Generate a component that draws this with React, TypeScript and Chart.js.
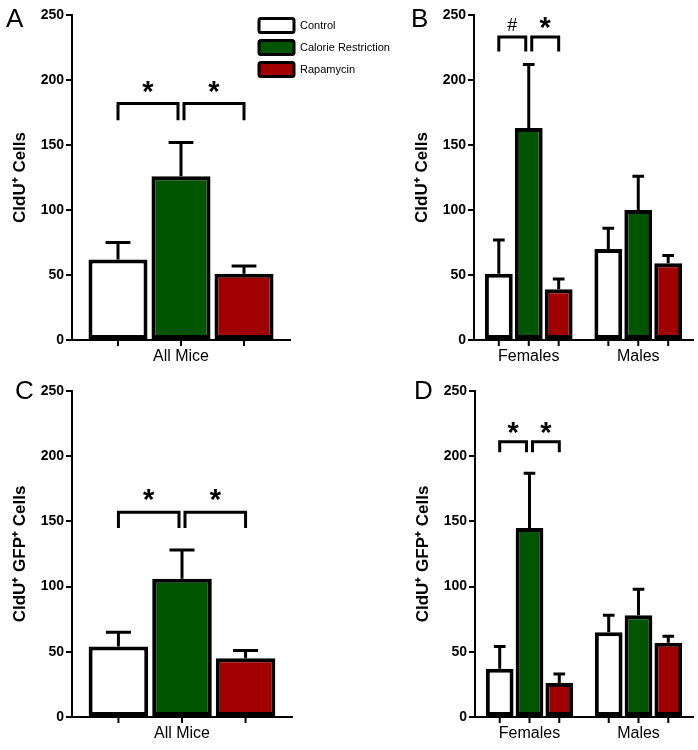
import React, { useEffect, useRef } from "react";
import { Chart, registerables } from "chart.js";

Chart.register(...registerables);

const FONT = '"Liberation Sans", Arial, Helvetica, sans-serif';

// ---------- data ----------
const seriesNames = ["Control", "Calorie Restriction", "Rapamycin"];
const seriesColors = ["#ffffff", "#005500", "#a00000"];
const allMiceCategories = ["All Mice"];
const sexCategories = ["Females", "Males"];
const yTicks = [0, 50, 100, 150, 200, 250];

// Panel A: CldU+ cells, all mice (mean, SEM)
const aControl = [62];
const aControlSem = [13];
const aCalorie = [126];
const aCalorieSem = [26];
const aRapamycin = [51];
const aRapamycinSem = [6];

// Panel B: CldU+ cells by sex
const bControl = [51, 70];
const bControlSem = [26, 16];
const bCalorie = [163, 100];
const bCalorieSem = [49, 26];
const bRapamycin = [39, 59];
const bRapamycinSem = [8, 6];

// Panel C: CldU+ GFP+ cells, all mice
const cControl = [54];
const cControlSem = [11];
const cCalorie = [106];
const cCalorieSem = [22];
const cRapamycin = [45];
const cRapamycinSem = [6];

// Panel D: CldU+ GFP+ cells by sex
const dControl = [37, 65];
const dControlSem = [17, 13];
const dCalorie = [145, 78];
const dCalorieSem = [42, 20];
const dRapamycin = [26, 57];
const dRapamycinSem = [7, 5];

// significance brackets: category, bar from/to, bracket top, leg end, mark, mark centre
const aBrackets = [
  { cat: 0, from: 0, to: 1, top: 182, leg: 169, mark: "*", markAt: 195 },
  { cat: 0, from: 1, to: 2, top: 182, leg: 169, mark: "*", markAt: 195 },
];
const bBrackets = [
  { cat: 0, from: 0, to: 1, top: 233, leg: 222, mark: "#", markAt: 243 },
  { cat: 0, from: 1, to: 2, top: 233, leg: 222, mark: "*", markAt: 244 },
];
const cBrackets = [
  { cat: 0, from: 0, to: 1, top: 157, leg: 145, mark: "*", markAt: 170 },
  { cat: 0, from: 1, to: 2, top: 157, leg: 145, mark: "*", markAt: 170 },
];
const dBrackets = [
  { cat: 0, from: 0, to: 1, top: 211, leg: 203, mark: "*", markAt: 222 },
  { cat: 0, from: 1, to: 2, top: 211, leg: 203, mark: "*", markAt: 222 },
];

type Bracket = { cat: number; from: number; to: number; top: number; leg: number; mark: string; markAt: number };

type PanelCfg = {
  letter: string;
  letterPos: [number, number];
  left: number;
  top: number;
  width: number;
  height: number;
  padding: { left: number; top: number; right: number; bottom: number };
  xHeight: number;
  yTitle: string;
  categories: string[];
  values: number[][];
  sems: number[][];
  brackets: Bracket[];
  catPct: number;
  barPct: number;
  legend: boolean;
};

const panels: PanelCfg[] = [
  {
    letter: "A", letterPos: [6, 7], left: 0, top: 0, width: 420, height: 375,
    padding: { left: 0, top: 15, right: 130, bottom: 0 }, xHeight: 35,
    yTitle: "CldU\u207A Cells", categories: allMiceCategories,
    values: [aControl, aCalorie, aRapamycin], sems: [aControlSem, aCalorieSem, aRapamycinSem],
    brackets: aBrackets, catPct: 0.867, barPct: 0.937, legend: true,
  },
  {
    letter: "B", letterPos: [61, 7], left: 350, top: 0, width: 348, height: 375,
    padding: { left: 52, top: 15, right: 5, bottom: 0 }, xHeight: 35,
    yTitle: "CldU\u207A Cells", categories: sexCategories,
    values: [bControl, bCalorie, bRapamycin], sems: [bControlSem, bCalorieSem, bRapamycinSem],
    brackets: bBrackets, catPct: 0.82, barPct: 0.93, legend: false,
  },
  {
    letter: "C", letterPos: [15, 4], left: 0, top: 375, width: 350, height: 375,
    padding: { left: 0, top: 16, right: 58, bottom: 0 }, xHeight: 33,
    yTitle: "CldU\u207A GFP\u207A Cells", categories: allMiceCategories,
    values: [cControl, cCalorie, cRapamycin], sems: [cControlSem, cCalorieSem, cRapamycinSem],
    brackets: cBrackets, catPct: 0.867, barPct: 0.937, legend: false,
  },
  {
    letter: "D", letterPos: [64, 4], left: 350, top: 375, width: 348, height: 375,
    padding: { left: 53, top: 16, right: 5, bottom: 0 }, xHeight: 33,
    yTitle: "CldU\u207A GFP\u207A Cells", categories: sexCategories,
    values: [dControl, dCalorie, dRapamycin], sems: [dControlSem, dCalorieSem, dRapamycinSem],
    brackets: dBrackets, catPct: 0.82, barPct: 0.93, legend: false,
  },
];

function makeOverlay(cfg: PanelCfg) {
  return {
    id: "overlay" + cfg.letter,
    afterDatasetsDraw(chart: any) {
      const ctx = chart.ctx as CanvasRenderingContext2D;
      const y = chart.scales.y;
      const area = chart.chartArea;
      ctx.save();
      ctx.strokeStyle = "#000";
      ctx.lineCap = "butt";
      // error bars + x tick marks
      chart.data.datasets.forEach((ds: any, di: number) => {
        const meta = chart.getDatasetMeta(di);
        meta.data.forEach((bar: any, i: number) => {
          const v = ds.data[i];
          const e = ds.sem[i];
          const x = bar.x;
          const w = bar.width;
          const yTop = y.getPixelForValue(v);
          const yErr = y.getPixelForValue(v + e);
          ctx.lineWidth = 3;
          ctx.beginPath();
          ctx.moveTo(x, yTop);
          ctx.lineTo(x, yErr);
          ctx.moveTo(x - w * 0.21, yErr);
          ctx.lineTo(x + w * 0.21, yErr);
          ctx.stroke();
          ctx.lineWidth = 2;
          ctx.beginPath();
          ctx.moveTo(x, area.bottom);
          ctx.lineTo(x, area.bottom + 6);
          ctx.stroke();
        });
      });
      // brackets
      cfg.brackets.forEach((b) => {
        const c1 = chart.getDatasetMeta(b.from).data[b.cat].x;
        const c2 = chart.getDatasetMeta(b.to).data[b.cat].x;
        const x1 = c1 + (b.from === 1 ? 3 : 0);
        const x2 = c2 - (b.to === 1 ? 3 : 0);
        const yt = y.getPixelForValue(b.top);
        const yl = y.getPixelForValue(b.leg);
        ctx.lineWidth = 3;
        ctx.lineJoin = "miter";
        ctx.beginPath();
        ctx.moveTo(x1, yl);
        ctx.lineTo(x1, yt);
        ctx.lineTo(x2, yt);
        ctx.lineTo(x2, yl);
        ctx.stroke();
        ctx.fillStyle = "#000";
        ctx.font = b.mark === "*" ? `bold 29px ${FONT}` : `18px ${FONT}`;
        ctx.textAlign = "center";
        ctx.textBaseline = "alphabetic";
        const m = ctx.measureText(b.mark);
        const cy = y.getPixelForValue(b.markAt);
        const base = cy - (m.actualBoundingBoxDescent - m.actualBoundingBoxAscent) / 2;
        ctx.fillText(b.mark, (x1 + x2) / 2, base);
      });
      ctx.restore();
    },
    afterDraw(chart: any) {
      const ctx = chart.ctx as CanvasRenderingContext2D;
      ctx.save();
      ctx.fillStyle = "#000";
      ctx.font = `26px ${FONT}`;
      ctx.textAlign = "left";
      ctx.textBaseline = "top";
      ctx.fillText(cfg.letter, cfg.letterPos[0], cfg.letterPos[1]);
      if (cfg.legend) {
        const rows = [25.5, 47.5, 69.5];
        seriesNames.forEach((name, i) => {
          const cy = rows[i];
          ctx.fillStyle = seriesColors[i];
          ctx.strokeStyle = "#000";
          ctx.lineWidth = 3;
          ctx.beginPath();
          (ctx as any).roundRect(259, cy - 7, 35, 14, 2);
          ctx.fill();
          ctx.stroke();
          ctx.fillStyle = "#000";
          ctx.font = `11px ${FONT}`;
          ctx.textBaseline = "middle";
          ctx.fillText(name, 300, cy);
        });
      }
      ctx.restore();
    },
  };
}

function Panel({ cfg }: { cfg: PanelCfg }) {
  const ref = useRef<HTMLCanvasElement>(null);
  useEffect(() => {
    if (!ref.current) return;
    const chart = new Chart(ref.current, {
      type: "bar",
      data: {
        labels: cfg.categories,
        datasets: seriesNames.map((name, i) => ({
          label: name,
          data: cfg.values[i],
          sem: cfg.sems[i],
          backgroundColor: seriesColors[i],
          borderColor: "#000",
          borderWidth: 4,
          borderSkipped: false,
          categoryPercentage: cfg.catPct,
          barPercentage: cfg.barPct,
        })) as any,
      },
      options: {
        responsive: false,
        animation: false,
        devicePixelRatio: 1,
        layout: { padding: cfg.padding },
        plugins: { legend: { display: false }, tooltip: { enabled: false } },
        scales: {
          x: {
            grid: { display: false, drawTicks: false },
            border: { display: true, color: "#000", width: 2 },
            ticks: { color: "#000", font: { family: FONT, size: 16 }, padding: 7, maxRotation: 0 },
            afterFit: (s: any) => { s.height = cfg.xHeight; },
          },
          y: {
            min: 0,
            max: 250,
            afterBuildTicks: (s: any) => { s.ticks = yTicks.map((v) => ({ value: v })); },
            grid: { display: true, drawOnChartArea: false, drawTicks: true, tickLength: 6, color: "#000", lineWidth: 2 },
            border: { display: true, color: "#000", width: 2 },
            ticks: { color: "#000", font: { family: FONT, size: 14, weight: "bold" }, padding: 2 },
            title: {
              display: true,
              text: cfg.yTitle,
              color: "#000",
              font: { family: FONT, size: 17, weight: "bold" },
              padding: { top: 10, bottom: 0 },
            },
            afterFit: (s: any) => { s.width = 72; },
          },
        },
      } as any,
      plugins: [makeOverlay(cfg)],
    });
    return () => chart.destroy();
  }, [cfg]);
  return (
    <canvas
      ref={ref}
      width={cfg.width}
      height={cfg.height}
      style={{ position: "absolute", left: cfg.left, top: cfg.top, width: cfg.width, height: cfg.height }}
    />
  );
}

export default function App() {
  return (
    <div style={{ position: "absolute", left: 0, top: 0, width: 698, height: 750, background: "#fff" }}>
      {panels.map((p) => (
        <Panel key={p.letter} cfg={p} />
      ))}
    </div>
  );
}
